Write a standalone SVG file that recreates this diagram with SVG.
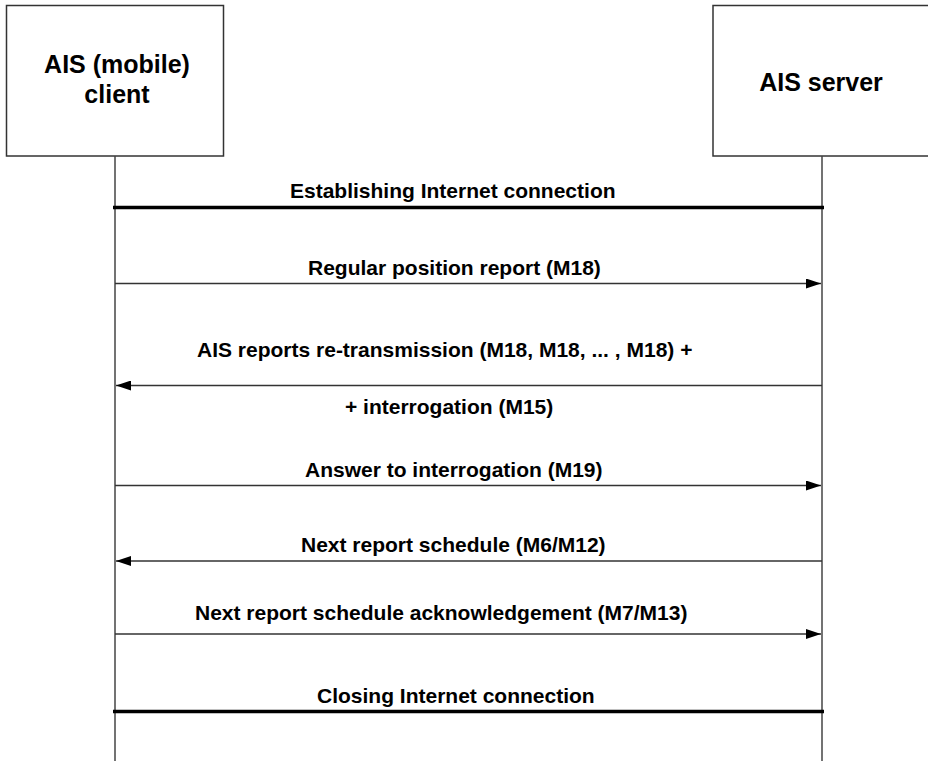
<svg xmlns="http://www.w3.org/2000/svg" width="928" height="761" viewBox="0 0 928 761">
<style>
.box{fill:#fff;stroke:#333;stroke-width:1.5}
.life{stroke:#444;stroke-width:1.5;fill:none}
.msg{stroke:#333;stroke-width:1.5;fill:none}
.thick{stroke:#000;stroke-width:3.5;fill:none}
.lbl{font-family:"Liberation Sans",Arial,Helvetica,sans-serif;font-weight:bold;font-size:21px;fill:#000}
.name{font-family:"Liberation Sans",Arial,Helvetica,sans-serif;font-weight:bold;font-size:25px;fill:#000;text-anchor:middle}
</style>
<defs>
<marker id="ah" markerWidth="15" markerHeight="10" refX="15" refY="5" orient="auto" markerUnits="userSpaceOnUse">
<path d="M0,0 L15,5 L0,10 Z" fill="#000"/>
</marker>
</defs>
<rect width="928" height="761" fill="#fff"/>
<g id="client">
<rect class="box" x="6.5" y="5.5" width="217" height="150.5"/>
<text class="name" x="117" y="73">AIS (mobile)</text>
<text class="name" x="117" y="103">client</text>
<line class="life" x1="115" y1="156" x2="115" y2="761"/>
</g>
<g id="server">
<rect class="box" x="713" y="5.5" width="220" height="150.5"/>
<text class="name" x="821" y="91">AIS server</text>
<line class="life" x1="822" y1="156" x2="822" y2="761"/>
</g>
<g id="connectors">
<line class="thick" x1="113" y1="207.5" x2="824" y2="207.5"/>
<text class="lbl" x="290" y="198">Establishing Internet connection</text>
<line class="msg" x1="115" y1="283.5" x2="821" y2="283.5" marker-end="url(#ah)"/>
<text class="lbl" x="308" y="275">Regular position report (M18)</text>
<line class="msg" x1="822" y1="385.5" x2="116" y2="385.5" marker-end="url(#ah)"/>
<text class="lbl" x="197" y="357">AIS reports re-transmission (M18, M18, ... , M18) +</text>
<text class="lbl" x="345" y="414">+ interrogation (M15)</text>
<line class="msg" x1="115" y1="485.5" x2="821" y2="485.5" marker-end="url(#ah)"/>
<text class="lbl" x="305" y="477">Answer to interrogation (M19)</text>
<line class="msg" x1="822" y1="561" x2="116" y2="561" marker-end="url(#ah)"/>
<text class="lbl" x="301" y="552">Next report schedule (M6/M12)</text>
<line class="msg" x1="115" y1="634" x2="821" y2="634" marker-end="url(#ah)"/>
<text class="lbl" x="195" y="620">Next report schedule acknowledgement (M7/M13)</text>
<line class="thick" x1="113" y1="711.5" x2="824" y2="711.5"/>
<text class="lbl" x="317" y="703">Closing Internet connection</text>
</g>
</svg>
